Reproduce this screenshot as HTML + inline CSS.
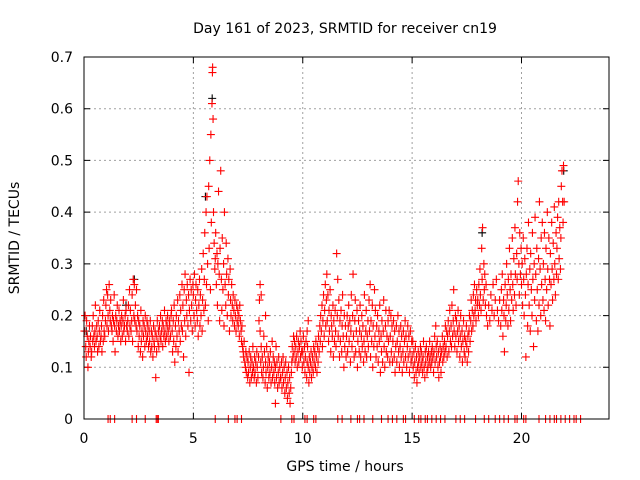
<!DOCTYPE html>
<html><head><meta charset="utf-8"><style>
body{margin:0;background:#fff}
svg{display:block;font-family:"DejaVu Sans","Liberation Sans",sans-serif}
</style></head><body>
<svg id="chart" width="640" height="480" viewBox="0 0 640 480">
<rect width="640" height="480" fill="#fff"/>
<text x="345" y="33" font-size="14" text-anchor="middle" fill="#000">Day 161 of 2023, SRMTID for receiver cn19</text>
<g id="grid"></g>
<g id="axes"></g>
<g id="blk"></g>
<g id="red"></g>
<rect x="84" y="57" width="525" height="362" fill="none" stroke="#000" stroke-width="1"/>
<text x="345" y="471" font-size="14" text-anchor="middle">GPS time / hours</text>
<text x="19" y="238" font-size="14" text-anchor="middle" transform="rotate(-90 19 238)">SRMTID / TECUs</text>
</svg>
<script>
const xTicks=[0,5,10,15,20];
const yTicks=[0,0.1,0.2,0.3,0.4,0.5,0.6,0.7];
const yTickLabels=["0","0.1","0.2","0.3","0.4","0.5","0.6","0.7"];
const redPairs=[
0.02,.17,.05,.20,.08,.14,.1,.12,.12,.19,.15,.16,.18,.10,.2,.13,.22,.15,.25,.18,.28,.14,.3,.16,.33,.12,.35,.13,.38,.18,.4,.15,.42,.20,.45,.16,.48,.14,.5,.17,.52,.22,.55,.15,.58,.18,.6,.16,.62,.13,.65,.19,.68,.14,.7,.17,.72,.21,.75,.15,.78,.16,.8,.18,.82,.13,.85,.20,.88,.15,.9,.23,.92,.17,.95,.16,.98,.19,
1.0,.22,1.03,.25,1.05,.18,1.08,.24,1.1,.20,1.12,.17,1.15,.26,1.18,.21,1.2,.19,1.22,.23,1.25,.18,1.28,.17,1.3,.20,1.33,.15,1.35,.19,1.38,.24,1.4,.18,1.42,.13,1.45,.20,1.48,.17,1.5,.19,1.52,.22,1.55,.16,1.58,.18,1.6,.21,1.62,.17,1.65,.19,1.68,.15,1.7,.18,1.72,.20,1.75,.16,1.78,.19,1.8,.23,1.82,.17,1.85,.18,1.88,.20,1.9,.15,1.92,.21,1.95,.18,1.98,.17,
2.0,.19,2.03,.22,2.05,.16,2.08,.25,2.1,.18,2.12,.21,2.15,.17,2.18,.19,2.2,.24,2.22,.15,2.25,.27,2.28,.20,2.3,.26,2.32,.19,2.35,.22,2.38,.18,2.4,.25,2.42,.17,2.45,.20,2.48,.14,2.5,.19,2.52,.16,2.55,.18,2.58,.13,2.6,.21,2.62,.15,2.65,.17,2.68,.12,2.7,.19,2.72,.16,2.75,.18,2.78,.14,2.8,.20,2.82,.17,2.85,.15,2.88,.19,2.9,.16,2.92,.18,2.95,.14,2.98,.17,
3.0,.15,3.03,.19,3.05,.13,3.08,.17,3.1,.14,3.12,.16,3.15,.12,3.18,.18,3.2,.15,3.22,.14,3.25,.17,3.28,.08,3.3,.16,3.32,.13,3.35,.19,3.38,.15,3.4,.17,3.42,.14,3.45,.18,3.48,.16,3.5,.20,3.52,.15,3.55,.17,3.58,.19,3.6,.14,3.62,.18,3.65,.16,3.68,.21,3.7,.17,3.72,.15,3.75,.19,3.78,.16,3.8,.18,3.82,.20,3.85,.17,3.88,.15,3.9,.19,3.92,.18,3.95,.16,3.98,.20,
4.0,.21,4.03,.17,4.05,.13,4.08,.19,4.1,.15,4.12,.22,4.15,.11,4.18,.18,4.2,.14,4.22,.20,4.25,.16,4.28,.23,4.3,.13,4.32,.19,4.35,.17,4.38,.24,4.4,.15,4.42,.21,4.45,.18,4.48,.26,4.5,.17,4.52,.22,4.55,.12,4.58,.25,4.6,.19,4.62,.28,4.65,.16,4.68,.23,4.7,.20,4.72,.26,4.75,.18,4.78,.24,4.8,.09,4.82,.21,4.85,.27,4.88,.19,4.9,.25,4.92,.22,4.95,.17,4.98,.26,
5.0,.24,5.03,.20,5.05,.28,5.08,.18,5.1,.23,5.12,.26,5.15,.21,5.18,.19,5.2,.25,5.22,.16,5.25,.22,5.28,.27,5.3,.18,5.32,.24,5.35,.20,5.38,.29,5.4,.17,5.42,.23,5.45,.32,5.48,.21,5.5,.27,5.52,.36,5.55,.22,5.58,.40,5.6,.26,5.62,.43,5.65,.30,5.68,.19,5.7,.45,5.72,.33,5.75,.50,5.78,.25,5.8,.55,5.82,.38,5.85,.61,5.87,.67,5.88,.68,5.9,.58,5.92,.40,5.95,.34,5.98,.29,
6.0,.31,6.02,.36,6.05,.26,6.08,.32,6.1,.22,6.12,.30,6.15,.44,6.18,.28,6.2,.19,6.22,.33,6.25,.48,6.28,.27,6.3,.21,6.32,.35,6.35,.25,6.38,.30,6.4,.18,6.42,.40,6.45,.26,6.48,.22,6.5,.34,6.52,.28,6.55,.20,6.58,.31,6.6,.24,6.62,.27,6.65,.17,6.68,.29,6.7,.23,6.72,.20,6.75,.26,6.78,.22,6.8,.19,6.82,.24,6.85,.21,6.88,.18,6.9,.23,6.92,.20,6.95,.17,6.98,.22,
7.0,.19,7.03,.21,7.05,.18,7.08,.20,7.1,.16,7.12,.22,7.15,.19,7.18,.17,7.2,.15,7.22,.18,7.25,.14,7.28,.13,7.3,.12,7.32,.15,7.35,.11,7.38,.10,7.4,.13,7.42,.09,7.45,.12,7.48,.08,7.5,.11,7.52,.09,7.55,.13,7.58,.07,7.6,.10,7.62,.12,7.65,.08,7.68,.11,7.7,.09,7.72,.14,7.75,.10,7.78,.08,7.8,.12,7.82,.09,7.85,.11,7.88,.07,7.9,.13,7.92,.10,7.95,.08,7.98,.12,
8.0,.19,8.02,.23,8.05,.17,8.08,.11,8.1,.14,8.12,.09,8.15,.12,8.18,.08,8.2,.10,8.22,.16,8.25,.13,8.28,.07,8.3,.11,8.32,.09,8.35,.14,8.38,.06,8.4,.10,8.42,.12,8.45,.08,8.48,.11,8.5,.09,8.52,.13,8.55,.07,8.58,.10,8.6,.15,8.62,.08,8.65,.12,8.68,.09,8.7,.11,8.72,.07,8.75,.10,8.78,.14,8.8,.08,8.82,.11,8.85,.06,8.88,.09,8.9,.12,8.92,.07,8.95,.10,8.98,.08,8.05,.26,8.1,.24,8.3,.20,8.75,.03,
9.0,.08,9.03,.11,9.05,.06,9.08,.09,9.1,.12,9.12,.07,9.15,.10,9.18,.05,9.2,.08,9.22,.11,9.25,.06,9.28,.09,9.3,.04,9.32,.07,9.35,.10,9.38,.05,9.4,.08,9.42,.03,9.45,.06,9.48,.09,9.5,.11,9.52,.14,9.55,.12,9.58,.16,9.6,.13,9.62,.15,9.65,.11,9.68,.14,9.7,.12,9.72,.16,9.75,.10,9.78,.13,9.8,.15,9.82,.11,9.85,.14,9.88,.17,9.9,.12,9.92,.15,9.95,.13,9.98,.10,
10.0,.13,10.03,.16,10.05,.11,10.08,.14,10.1,.09,10.12,.12,10.15,.15,10.18,.08,10.2,.11,10.22,.14,10.25,.10,10.28,.07,10.3,.12,10.32,.09,10.35,.11,10.38,.13,10.4,.08,10.42,.10,10.45,.12,10.48,.09,10.5,.14,10.52,.11,10.55,.13,10.58,.10,10.6,.15,10.62,.12,10.65,.09,10.68,.14,10.7,.11,10.72,.16,10.75,.13,10.78,.18,10.8,.15,10.82,.20,10.85,.17,10.88,.22,10.9,.14,10.92,.19,10.95,.24,10.98,.16,10.2,.17,10.25,.19,
11.0,.21,11.03,.26,11.05,.18,11.08,.23,11.1,.28,11.12,.19,11.15,.24,11.18,.15,11.2,.21,11.22,.17,11.25,.25,11.28,.13,11.3,.20,11.32,.18,11.35,.16,11.38,.22,11.4,.12,11.42,.19,11.45,.15,11.48,.21,11.5,.17,11.52,.14,11.55,.32,11.58,.20,11.6,.27,11.62,.16,11.65,.23,11.68,.12,11.7,.19,11.72,.15,11.75,.21,11.78,.13,11.8,.18,11.82,.24,11.85,.16,11.88,.10,11.9,.20,11.92,.14,11.95,.18,11.98,.12,
12.0,.16,12.03,.20,12.05,.13,12.08,.18,12.1,.22,12.12,.15,12.15,.19,12.18,.11,12.2,.17,12.22,.24,12.25,.14,12.28,.20,12.3,.28,12.32,.16,12.35,.12,12.38,.19,12.4,.23,12.42,.13,12.45,.17,12.48,.21,12.5,.10,12.52,.15,12.55,.19,12.58,.13,12.6,.17,12.62,.22,12.65,.12,12.68,.16,12.7,.20,12.72,.14,12.75,.18,12.78,.11,12.8,.15,12.82,.24,12.85,.13,12.88,.17,12.9,.21,12.92,.12,12.95,.16,12.98,.19,
13.0,.14,13.03,.23,13.05,.17,13.08,.26,13.1,.12,13.12,.19,13.15,.15,13.18,.22,13.2,.10,13.22,.18,13.25,.14,13.28,.25,13.3,.16,13.32,.21,13.35,.12,13.38,.18,13.4,.14,13.42,.20,13.45,.11,13.48,.17,13.5,.15,13.52,.22,13.55,.09,13.58,.16,13.6,.13,13.62,.19,13.65,.11,13.68,.17,13.7,.23,13.72,.14,13.75,.10,13.78,.18,13.8,.21,13.82,.13,13.85,.16,13.88,.12,13.9,.19,13.92,.15,13.95,.21,13.98,.11,
14.0,.16,14.03,.20,14.05,.13,14.08,.18,14.1,.11,14.12,.15,14.15,.19,14.18,.12,14.2,.17,14.22,.09,14.25,.14,14.28,.18,14.3,.11,14.32,.15,14.35,.20,14.38,.13,14.4,.17,14.42,.10,14.45,.14,14.48,.18,14.5,.12,14.52,.16,14.55,.09,14.58,.13,14.6,.17,14.62,.11,14.65,.15,14.68,.19,14.7,.12,14.72,.16,14.75,.10,14.78,.14,14.8,.18,14.82,.12,14.85,.16,14.88,.09,14.9,.13,14.92,.17,14.95,.11,14.98,.15,
15.0,.12,15.03,.15,15.05,.10,15.08,.13,15.1,.08,15.12,.11,15.15,.14,15.18,.09,15.2,.12,15.22,.07,15.25,.10,15.28,.13,15.3,.11,15.32,.09,15.35,.12,15.38,.14,15.4,.10,15.42,.13,15.45,.11,15.48,.09,15.5,.12,15.52,.15,15.55,.10,15.58,.08,15.6,.13,15.62,.11,15.65,.14,15.68,.09,15.7,.12,15.72,.10,15.75,.13,15.78,.11,15.8,.15,15.82,.12,15.85,.10,15.88,.13,15.9,.11,15.92,.14,15.95,.12,15.98,.09,
16.0,.13,16.03,.16,16.05,.11,16.08,.18,16.1,.14,16.12,.12,16.15,.15,16.18,.10,16.2,.13,16.22,.08,16.25,.11,16.28,.14,16.3,.12,16.32,.09,16.35,.13,16.38,.16,16.4,.11,16.42,.14,16.45,.12,16.48,.15,16.5,.13,16.52,.18,16.55,.14,16.58,.17,16.6,.12,16.62,.16,16.65,.19,16.68,.13,16.7,.17,16.72,.21,16.75,.15,16.78,.18,16.8,.14,16.82,.22,16.85,.16,16.88,.19,16.9,.25,16.92,.17,16.95,.14,16.98,.20,
17.0,.16,17.03,.19,17.05,.13,17.08,.17,17.1,.21,17.12,.15,17.15,.18,17.18,.12,17.2,.16,17.22,.20,17.25,.14,17.28,.17,17.3,.11,17.32,.15,17.35,.19,17.38,.13,17.4,.16,17.42,.12,17.45,.15,17.48,.18,17.5,.14,17.52,.11,17.55,.16,17.58,.13,17.6,.17,17.62,.20,17.65,.15,17.68,.19,17.7,.23,17.72,.17,17.75,.21,17.78,.18,17.8,.24,17.82,.20,17.85,.26,17.88,.21,17.9,.23,17.92,.19,17.95,.25,17.98,.22,
18.0,.23,18.03,.20,18.05,.26,18.08,.22,18.1,.29,18.12,.24,18.15,.21,18.18,.33,18.2,.27,18.22,.37,18.25,.23,18.28,.30,18.3,.25,18.32,.28,18.35,.22,18.38,.26,18.4,.20,18.45,.18,18.5,.22,18.55,.19,18.6,.24,18.65,.21,18.7,.26,18.75,.20,18.8,.23,18.85,.27,18.9,.21,18.95,.19,19.0,.23,
19.05,.18,19.08,.25,19.1,.21,19.12,.28,19.15,.16,19.18,.23,19.2,.20,19.22,.13,19.25,.26,19.28,.19,19.3,.22,19.32,.30,19.35,.24,19.38,.18,19.4,.27,19.42,.21,19.45,.33,19.48,.25,19.5,.19,19.52,.28,19.55,.23,19.58,.35,19.6,.26,19.62,.21,19.65,.31,19.68,.24,19.7,.37,19.72,.28,19.75,.22,19.78,.32,19.8,.27,19.82,.42,19.85,.46,19.88,.30,19.9,.24,19.92,.36,19.95,.28,19.98,.33,
20.0,.26,20.03,.30,20.05,.22,20.08,.35,20.1,.27,20.12,.20,20.15,.31,20.18,.24,20.2,.12,20.22,.28,20.25,.33,20.28,.18,20.3,.26,20.32,.38,20.35,.22,20.38,.29,20.4,.17,20.42,.32,20.45,.25,20.48,.20,20.5,.36,20.52,.27,20.55,.14,20.58,.30,20.6,.23,20.62,.39,20.65,.28,20.68,.19,20.7,.33,20.72,.25,20.75,.17,20.78,.31,20.8,.22,20.82,.42,20.85,.29,20.88,.20,20.9,.35,20.92,.26,20.95,.38,20.98,.23,
21.0,.30,21.03,.21,21.05,.36,21.08,.27,21.1,.19,21.12,.33,21.15,.25,21.18,.40,21.2,.29,21.22,.22,21.25,.35,21.28,.27,21.3,.18,21.32,.32,21.35,.26,21.38,.38,21.4,.29,21.42,.23,21.45,.34,21.48,.27,21.5,.41,21.52,.30,21.55,.24,21.58,.36,21.6,.28,21.62,.33,21.65,.39,21.68,.27,21.7,.42,21.72,.31,21.75,.37,21.78,.29,21.8,.35,21.82,.45,21.85,.48,21.88,.42,21.9,.38,21.92,.49,21.95,.42
];
const zeroTimes=[1.1,1.2,1.4,2.2,2.4,2.8,3.3,3.35,3.4,6.0,6.6,6.9,7.0,7.2,9.0,9.5,9.6,10.1,10.2,10.5,10.6,11.6,11.8,12.2,12.5,12.6,12.8,13.2,13.6,13.9,14.1,14.3,14.6,14.7,15.1,15.3,15.4,15.6,15.7,15.9,16.1,16.3,16.5,17.0,17.2,17.4,17.9,18.3,18.5,18.8,19.0,19.2,19.4,19.7,19.8,20.1,20.2,20.8,21.1,21.3,21.5,21.6,21.8,22.0,22.2,22.4,22.5,22.7];
const blackTimes=[0.1,1.92,2.3,5.55,5.86,18.2,21.93];
const blackValues=[0.17,0.22,0.27,0.43,0.62,0.36,0.48];
const NS='http://www.w3.org/2000/svg';
const X0=84,X1=609,Y0=419,Y1=57,XMAX=24,YMAX=0.7;
function xs(t){return X0+(X1-X0)*t/XMAX;}
function ys(v){return Y0-(Y0-Y1)*v/YMAX;}
const grid=document.getElementById('grid'),axes=document.getElementById('axes');
yTicks.forEach((v,i)=>{
  const y=ys(v);
  if(i>0&&i<yTicks.length-1){
    const g=document.createElementNS(NS,'line');
    
    
    g.setAttribute('x1',X0);g.setAttribute('x2',X1);g.setAttribute('y1',y);g.setAttribute('y2',y);
    g.setAttribute('stroke','#a0a0a0');g.setAttribute('stroke-dasharray','2,3');
    grid.appendChild(g);
  }
  const tk=document.createElementNS(NS,'path');
  
  
  tk.setAttribute('d',`M${X0},${y}h6M${X1},${y}h-6`);tk.setAttribute('stroke','#000');
  axes.appendChild(tk);
  const t=document.createElementNS(NS,'text');
  
  
  t.setAttribute('x',X0-11);t.setAttribute('y',y+5);t.setAttribute('text-anchor','end');t.setAttribute('font-size','14');
  t.textContent=yTickLabels[i];axes.appendChild(t);
});
xTicks.forEach(v=>{
  const x=xs(v);
  if(v>0){
    const g=document.createElementNS(NS,'line');
    
    
    g.setAttribute('x1',x);g.setAttribute('x2',x);g.setAttribute('y1',Y1);g.setAttribute('y2',Y0);
    g.setAttribute('stroke','#a0a0a0');g.setAttribute('stroke-dasharray','2,3');
    grid.appendChild(g);
  }
  const tk=document.createElementNS(NS,'path');
  
  
  tk.setAttribute('d',`M${x},${Y0}v-6M${x},${Y1}v6`);tk.setAttribute('stroke','#000');
  axes.appendChild(tk);
  const t=document.createElementNS(NS,'text');
  
  
  t.setAttribute('x',x);t.setAttribute('y',Y0+24);t.setAttribute('text-anchor','middle');t.setAttribute('font-size','14');
  t.textContent=String(v);axes.appendChild(t);
});
function plus(parent,t,v,color){
  const x=xs(t),y=ys(v);
  const p=document.createElementNS(NS,'path');
  
  
  p.setAttribute('d',`M${x-4},${y}h8M${x},${y-4}v8`);
  p.setAttribute('stroke',color);p.setAttribute('stroke-width','1.1');
  parent.appendChild(p);
}
const blk=document.getElementById('blk'),red=document.getElementById('red');
blackTimes.forEach((t,i)=>plus(blk,t,blackValues[i],'#000'));
for(let i=0;i<redPairs.length;i+=2)plus(red,redPairs[i],redPairs[i+1],'#f00');
zeroTimes.forEach(t=>plus(red,t,0,'#f00'));
</script>
</body></html>
